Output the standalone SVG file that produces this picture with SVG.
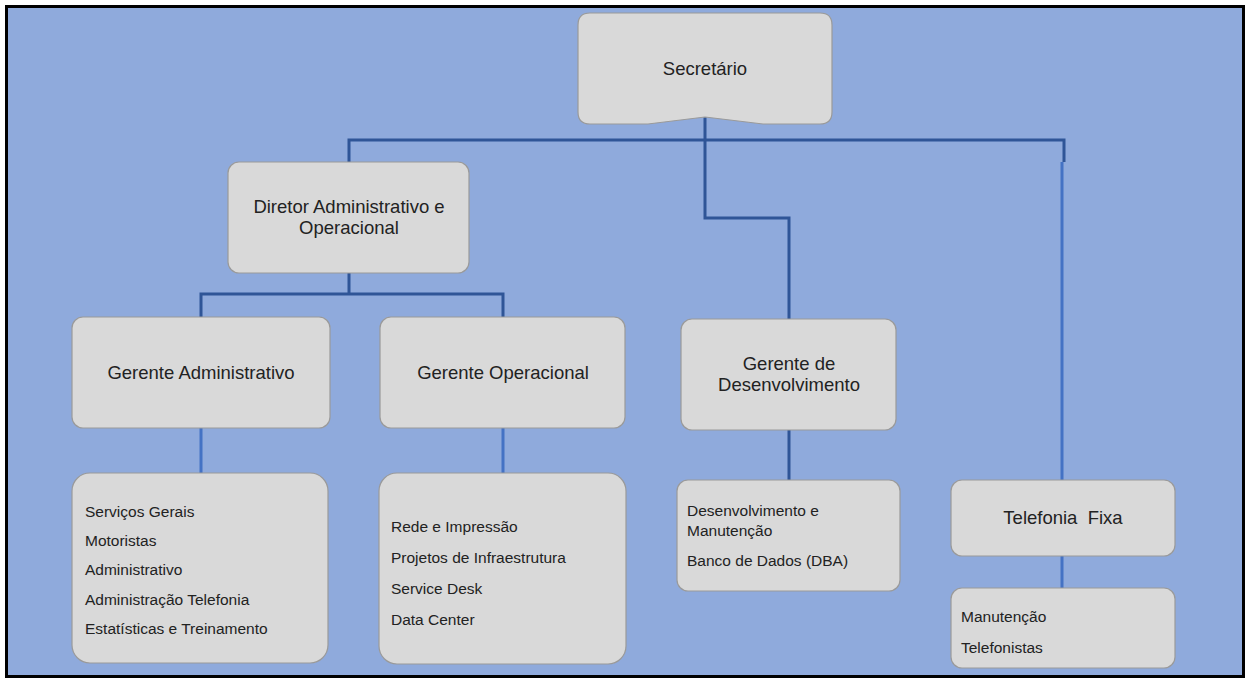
<svg xmlns="http://www.w3.org/2000/svg" width="1250" height="683" viewBox="0 0 1250 683">
<style>
.box{fill:#d9d9d9;stroke:#9a9a9a;stroke-width:1.2}
.t{font-family:"Liberation Sans",Arial,sans-serif;font-size:18.5px;fill:#222;text-anchor:middle}
.l{font-family:"Liberation Sans",Arial,sans-serif;font-size:15.5px;fill:#222}
.dk{stroke:#2f5597;stroke-width:3;fill:none}
.br{stroke:#4472c4;stroke-width:3;fill:none}
</style>
<rect x="0" y="0" width="1250" height="683" fill="#ffffff"/>
<rect x="6.5" y="6.5" width="1237" height="670" fill="#8faadc" stroke="#000" stroke-width="3"/>
<g id="connectors">
<path class="dk" d="M705 117 V218 H789 V319"/>
<path class="dk" d="M349 162 V140 H1064 V162"/>
<path class="dk" d="M349 273 V294 M201 317 V294 H503 V317"/>
<path class="dk" d="M789 430 V480"/>
<path class="br" d="M1062 162 V480 M1062 556 V590"/>
<path class="br" d="M201 428 V473 M503 428 V473"/>
</g>
<g id="secretario">
<path class="box" d="M590 13 H820 Q832 13 832 25 V112 Q832 124 820 124 H763 L705 117 L648 124 H590 Q578 124 578 112 V25 Q578 13 590 13 Z"/>
<text class="t" x="705" y="75">Secretário</text>
</g>
<g id="diretor">
<rect class="box" x="228" y="162" width="241" height="111" rx="11"/>
<text class="t" x="349" y="213">Diretor Administrativo e</text>
<text class="t" x="349" y="234">Operacional</text>
</g>
<g id="gerente-adm">
<rect class="box" x="72" y="317" width="258" height="111" rx="11"/>
<text class="t" x="201" y="379">Gerente Administrativo</text>
</g>
<g id="gerente-op">
<rect class="box" x="380" y="317" width="245" height="111" rx="11"/>
<text class="t" x="503" y="379">Gerente Operacional</text>
</g>
<g id="gerente-dev">
<rect class="box" x="681" y="319" width="215" height="111" rx="11"/>
<text class="t" x="789" y="370">Gerente de</text>
<text class="t" x="789" y="391">Desenvolvimento</text>
</g>
<g id="telefonia">
<rect class="box" x="951" y="480" width="224" height="76" rx="11"/>
<text class="t" x="1063" y="524" xml:space="preserve">Telefonia  Fixa</text>
</g>
<g id="lista-adm">
<rect class="box" x="72" y="473" width="256" height="190" rx="18"/>
<text class="l" x="85" y="517">Serviços Gerais</text>
<text class="l" x="85" y="546">Motoristas</text>
<text class="l" x="85" y="575">Administrativo</text>
<text class="l" x="85" y="605">Administração Telefonia</text>
<text class="l" x="85" y="634">Estatísticas e Treinamento</text>
</g>
<g id="lista-op">
<rect class="box" x="379" y="473" width="247" height="191" rx="18"/>
<text class="l" x="391" y="532">Rede e Impressão</text>
<text class="l" x="391" y="563">Projetos de Infraestrutura</text>
<text class="l" x="391" y="594">Service Desk</text>
<text class="l" x="391" y="625">Data Center</text>
</g>
<g id="lista-dev">
<rect class="box" x="677" y="480" width="223" height="111" rx="11"/>
<text class="l" x="687" y="516">Desenvolvimento e</text>
<text class="l" x="687" y="536">Manutenção</text>
<text class="l" x="687" y="566">Banco de Dados (DBA)</text>
</g>
<g id="lista-tel">
<rect class="box" x="951" y="588" width="224" height="80" rx="11"/>
<text class="l" x="961" y="622">Manutenção</text>
<text class="l" x="961" y="653">Telefonistas</text>
</g>
</svg>
